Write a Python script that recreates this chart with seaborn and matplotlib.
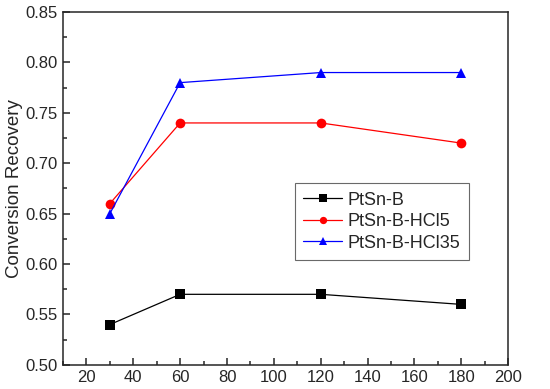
import matplotlib
matplotlib.use("Agg")
import matplotlib.pyplot as plt
import seaborn as sns
import pandas as pd
from matplotlib.ticker import MultipleLocator

sns.set_style("ticks")
plt.rcParams['font.family'] = ['Liberation Sans', 'DejaVu Sans']

time = [30, 60, 120, 180]
ptsn_b = [0.54, 0.57, 0.57, 0.56]
ptsn_b_hcl5 = [0.66, 0.74, 0.74, 0.72]
ptsn_b_hcl35 = [0.65, 0.78, 0.79, 0.79]
series_names = ["PtSn-B", "PtSn-B-HCl5", "PtSn-B-HCl35"]

df = pd.DataFrame({
    "x": time * 3,
    "y": ptsn_b + ptsn_b_hcl5 + ptsn_b_hcl35,
    "s": [series_names[0]] * 4 + [series_names[1]] * 4 + [series_names[2]] * 4,
})

fig = plt.figure(figsize=(5.5, 3.89), dpi=100)
ax = fig.add_axes([0.1145, 0.062, 0.8095, 0.907])

palette = {"PtSn-B": "black", "PtSn-B-HCl5": "red", "PtSn-B-HCl35": "blue"}
markers = {"PtSn-B": "s", "PtSn-B-HCl5": "o", "PtSn-B-HCl35": "^"}
sns.lineplot(data=df, x="x", y="y", hue="s", style="s", palette=palette,
             markers=markers, dashes=False, markersize=7, linewidth=0.9,
             markeredgewidth=0, ax=ax)

ax.set_xlim(10, 200)
ax.set_ylim(0.50, 0.85)
ax.xaxis.set_major_locator(MultipleLocator(20))
ax.xaxis.set_minor_locator(MultipleLocator(10))
ax.yaxis.set_major_locator(MultipleLocator(0.05))
ax.yaxis.set_minor_locator(MultipleLocator(0.025))
ax.yaxis.set_major_formatter(matplotlib.ticker.FormatStrFormatter('%.2f'))
ax.xaxis.set_major_formatter(matplotlib.ticker.FormatStrFormatter('%d'))
ax.tick_params(which='both', direction='in', labelsize=12, width=1.1)
ax.tick_params(which='major', length=5)
ax.tick_params(which='minor', length=3)
for sp in ax.spines.values():
    sp.set_visible(True)
    sp.set_linewidth(1.1)
ax.set_xlabel("")
ax.set_ylabel("Conversion Recovery", fontsize=13.5, labelpad=2)

leg = ax.legend(loc="upper left", bbox_to_anchor=(0.5, 0.54), fontsize=13,
                frameon=True, fancybox=False, edgecolor="#444444",
                handlelength=2.2, handletextpad=0.3, borderpad=0.45,
                labelspacing=0.25, markerscale=0.75)
leg.get_frame().set_linewidth(0.8)

fig.savefig("out.png", dpi=100)
